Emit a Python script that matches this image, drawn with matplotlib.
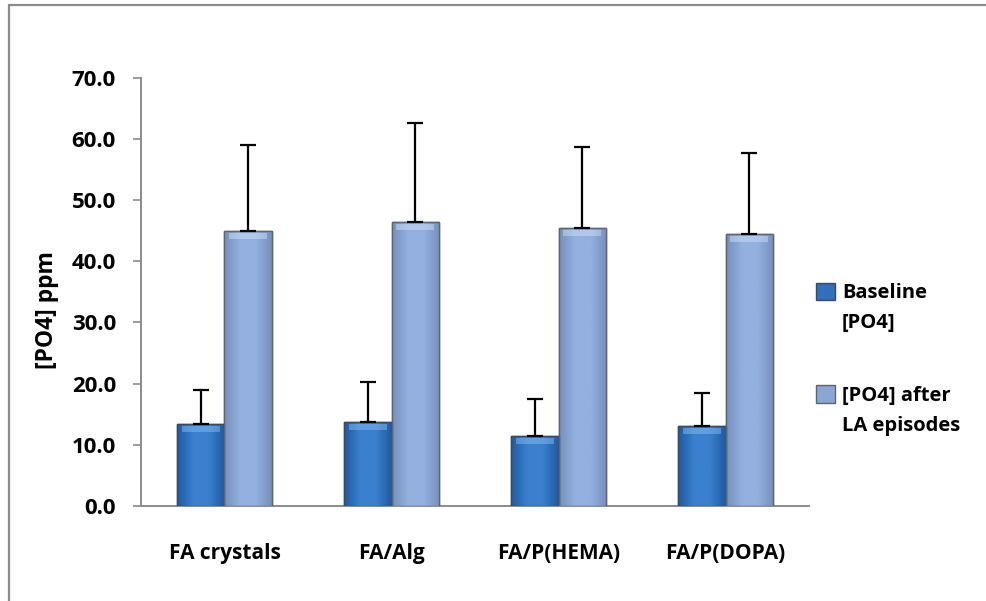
import matplotlib
matplotlib.use("Agg")
import matplotlib.pyplot as plt
import numpy as np
from matplotlib.patches import Rectangle
from matplotlib.colors import LinearSegmentedColormap
from matplotlib.legend_handler import HandlerPatch

categories = ["FA crystals", "FA/Alg", "FA/P(HEMA)", "FA/P(DOPA)"]
baseline = [13.4, 13.7, 11.4, 13.0]
baseline_err = [5.6, 6.6, 6.0, 5.4]
after_la = [44.9, 46.4, 45.5, 44.5]
after_la_err = [14.1, 16.2, 13.2, 13.2]
series_labels = ["Baseline\n[PO4]", "[PO4] after\nLA episodes"]
yticks = [0, 10, 20, 30, 40, 50, 60, 70]

plt.rcParams["font.family"] = ["Open Sans", "DejaVu Sans"]
FW = "bold"
LEG_FS = 14.5
LEG_LS = 1.69


class TopSquareHandler(HandlerPatch):
    """Legend square aligned with the first line of a two-line label."""
    def create_artists(self, legend, orig_handle, xdescent, ydescent,
                       width, height, fontsize, trans):
        shift = fontsize * 0.51 * LEG_LS
        p = Rectangle((-xdescent, -ydescent + shift), width, height)
        self.update_prop(p, orig_handle, legend)
        p.set_transform(trans)
        return [p]


fig = plt.figure(figsize=(9.86, 6.01), dpi=100)
ax = fig.add_axes([0.143, 0.1586, 0.6775, 0.7114])

# outer chart frame
fig.patches.append(Rectangle((9 / 986, -0.1), 1.2, 1 - 5 / 601 + 0.1,
                             transform=fig.transFigure, fill=False,
                             edgecolor="#8c8c8c", lw=1.6, zorder=0))

x = np.arange(len(categories))
w = 0.286
base_col = "#2f6fbb"
after_col = "#8aa6d6"

b1 = ax.bar(x - w / 2, baseline, w, color=base_col, edgecolor="#3d4a5c",
            lw=1.0, zorder=3, label=series_labels[0])
b2 = ax.bar(x + w / 2, after_la, w, color=after_col, edgecolor="#5f6570",
            lw=1.0, zorder=3, label=series_labels[1])


# horizontal shading across each bar
def shade(bars, dark, light, cap):
    cmap = LinearSegmentedColormap.from_list("s", [dark, light, light, dark])
    grad = np.linspace(0, 1, 64).reshape(1, -1)
    for bar in bars:
        x0, y0 = bar.get_x(), bar.get_y()
        bw, bh = bar.get_width(), bar.get_height()
        im = ax.imshow(grad, cmap=cmap, aspect="auto", zorder=3.5,
                       extent=(x0, x0 + bw, y0, y0 + bh), interpolation="bicubic")
        im.set_clip_path(bar)
        # soft highlight at the top
        ax.add_patch(Rectangle((x0 + bw * 0.1, y0 + bh - 1.3), bw * 0.8, 1.0,
                               facecolor=cap, alpha=0.45, lw=0, zorder=3.6))
        ax.add_patch(Rectangle((x0, y0), bw, bh, fill=False,
                               edgecolor=bar.get_edgecolor(), lw=1.0, zorder=3.7))


shade(b1, "#1f5aa0", "#3a80cf", "#8ec3f5")
shade(b2, "#7790bd", "#93b0e0", "#d4e6fb")

ax.errorbar(x - w / 2, baseline, yerr=[np.zeros(4), baseline_err], fmt="none",
            ecolor="black", elinewidth=1.6, capsize=6, capthick=1.6, zorder=4)
ax.errorbar(x + w / 2, after_la, yerr=[np.zeros(4), after_la_err], fmt="none",
            ecolor="black", elinewidth=1.6, capsize=6, capthick=1.6, zorder=4)

ax.set_xlim(-0.5, len(categories) - 0.5)
ax.set_ylim(0, 70)
ax.set_yticks(yticks)
ax.set_yticklabels([f"{v:.1f}" for v in yticks], fontsize=16, fontweight=FW)
ax.set_xticks(x)
ax.set_xticklabels(categories, fontsize=15, fontweight=FW)
ax.tick_params(axis="y", length=6, width=1.2, color="#8c8c8c", pad=12)
ax.tick_params(axis="x", length=0, pad=27)
for s in ["top", "right"]:
    ax.spines[s].set_visible(False)
for s in ["left", "bottom"]:
    ax.spines[s].set_color("#8c8c8c")
    ax.spines[s].set_linewidth(1.4)

ax.set_ylabel("[PO4] ppm", fontsize=16.5, fontweight=FW)
ax.yaxis.set_label_coords(-0.1225, 0.458)

leg = ax.legend(handles=[b1.patches[0], b2.patches[0]], labels=series_labels,
                loc="center left", bbox_to_anchor=(0.983, 0.342), frameon=False,
                fontsize=LEG_FS, handlelength=0.95, handleheight=0.95,
                handletextpad=0.35, labelspacing=2.6,
                handler_map={Rectangle: TopSquareHandler()})
for t in leg.get_texts():
    t.set_fontweight(FW)
    t.set_linespacing(LEG_LS)

fig.savefig("out.png", dpi=100)
